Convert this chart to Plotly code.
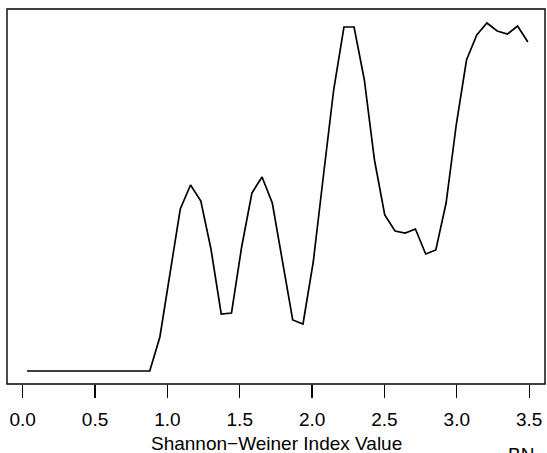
import plotly.graph_objects as go

# Shannon-Weiner index value (x) and relative frequency (y, arbitrary units; no y-axis shown)
index_values = [0.030, 0.101, 0.171, 0.242, 0.313, 0.383, 0.454, 0.524, 0.595, 0.666,
                0.736, 0.807, 0.878, 0.948, 1.019, 1.089, 1.160, 1.231, 1.301, 1.372,
                1.443, 1.513, 1.584, 1.654, 1.725, 1.796, 1.866, 1.937, 2.008, 2.078,
                2.149, 2.220, 2.290, 2.361, 2.431, 2.502, 2.573, 2.643, 2.714, 2.785,
                2.855, 2.926, 2.996, 3.067, 3.138, 3.208, 3.279, 3.350, 3.420, 3.491]
frequency = [0.000, 0.000, 0.000, 0.000, 0.000, 0.000, 0.000, 0.000, 0.000, 0.000,
             0.000, 0.000, 0.000, 0.034, 0.099, 0.162, 0.186, 0.170, 0.122, 0.057,
             0.058, 0.124, 0.178, 0.194, 0.168, 0.109, 0.051, 0.047, 0.109, 0.195,
             0.281, 0.344, 0.344, 0.291, 0.211, 0.156, 0.140, 0.138, 0.142, 0.117,
             0.121, 0.168, 0.246, 0.311, 0.336, 0.348, 0.340, 0.337, 0.345, 0.329]
tick_values = [0.0, 0.5, 1.0, 1.5, 2.0, 2.5, 3.0, 3.5]
tick_labels = ["0.0", "0.5", "1.0", "1.5", "2.0", "2.5", "3.0", "3.5"]
x_title = "Shannon\u2212Weiner Index Value"
sub_label = "BN"

FONT = "Liberation Sans, Arial, Helvetica, sans-serif"
FS = 19

fig = go.Figure()
fig.add_trace(go.Scatter(x=index_values, y=frequency, mode="lines",
                         line=dict(color="black", width=1.7), hoverinfo="skip",
                         showlegend=False))

fig.update_layout(
    width=547, height=453,
    margin=dict(l=7, r=2, t=9, b=69, autoexpand=False),
    paper_bgcolor="white", plot_bgcolor="white",
    font=dict(family=FONT, size=FS, color="black"),
    xaxis=dict(range=[-0.1085, 3.6095], tickvals=tick_values, ticktext=tick_labels,
               ticks="outside", ticklen=13, tickwidth=1.3, tickcolor="black",
               ticklabelstandoff=5, showline=False,
               showgrid=False, zeroline=False, tickfont=dict(size=FS),
               automargin=False),
    yaxis=dict(range=[-0.013, 0.362], showticklabels=False, ticks="",
               showline=False, showgrid=False, zeroline=False, automargin=False),
    shapes=[dict(type="rect", xref="paper", yref="paper", x0=0, x1=1, y0=0, y1=1,
                 line=dict(color="black", width=1.4), fillcolor="rgba(0,0,0,0)",
                 layer="above")],
    annotations=[
        dict(text=x_title, xref="paper", yref="paper", x=0.5, y=-0.16,
             xanchor="center", yanchor="middle", showarrow=False,
             font=dict(size=FS)),
        dict(text=sub_label, xref="paper", yref="paper", x=0.955, y=-0.188,
             xanchor="center", yanchor="middle", showarrow=False,
             font=dict(size=FS)),
    ],
)

fig.write_html(
    "out.html",
    config={"displayModeBar": False, "staticPlot": True},
    post_script="document.body.style.margin='0';document.body.style.overflow='hidden';",
)
